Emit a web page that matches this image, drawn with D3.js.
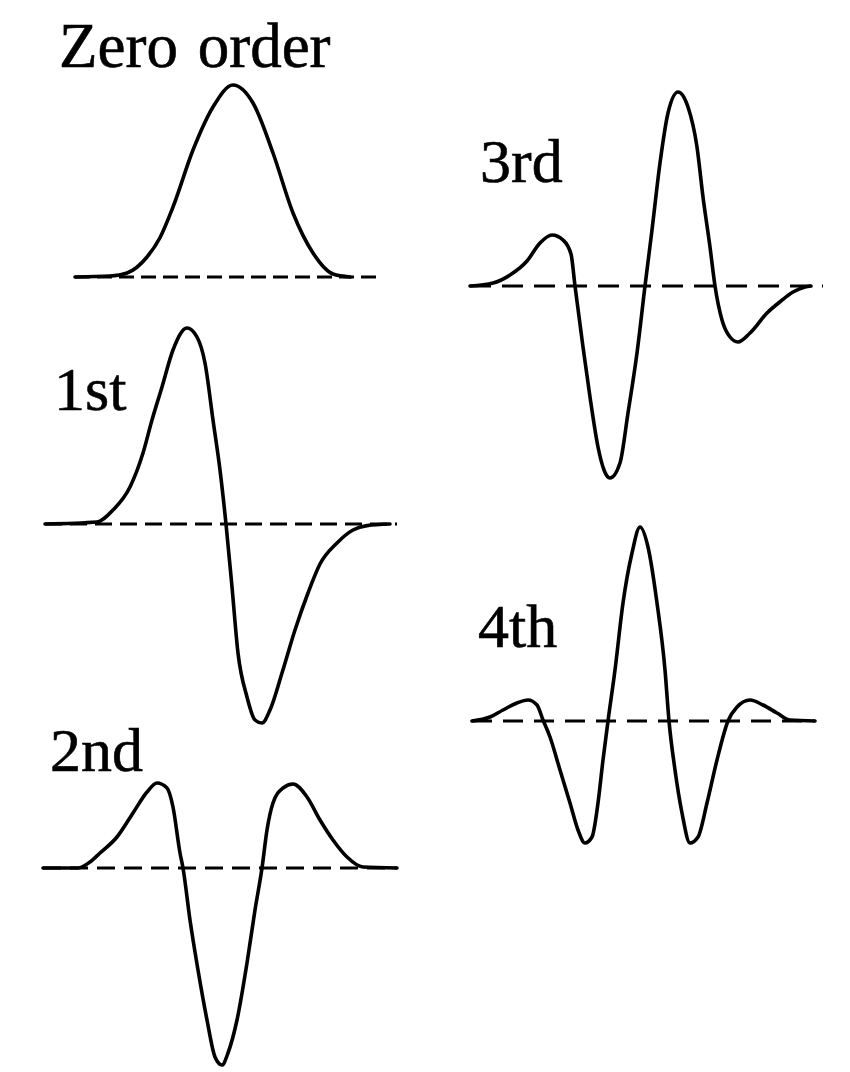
<!DOCTYPE html>
<html>
<head>
<meta charset="utf-8">
<script src="https://cdn.jsdelivr.net/npm/d3@7"></script>
<style>
  html, body { margin: 0; padding: 0; background: #fff; }
  svg { display: block; }
</style>
</head>
<body>
<svg id="chart" width="850" height="1072"></svg>
<script>
// ---- Data (x in sigma-like units, y in normalized amplitude) ----
const labels = ["Zero order", "1st", "2nd", "3rd", "4th"];

const zeroOrder = [
  [-3.95, 0], [-3.08, 0.005], [-2.65, 0.02], [-2.15, 0.10], [-1.83, 0.195],
  [-1.5, 0.35], [-1.0, 0.635], [-0.5, 0.85], [0, 0.96], [0.5, 0.87],
  [1.0, 0.62], [1.5, 0.32], [2.0, 0.12], [2.5, 0.015], [2.93, 0]
];

const firstOrder = [
  [-4.525, 0], [-3.225, 0.01], [-2.825, 0.07], [-2.4, 0.185], [-2.075, 0.355],
  [-1.85, 0.52], [-1.6, 0.685], [-1.325, 0.87], [-0.975, 0.98], [-0.725, 0.935],
  [-0.525, 0.805], [-0.325, 0.52], [-0.15, 0.27], [0, 0], [0.15, -0.315],
  [0.3, -0.645], [0.525, -0.865], [0.725, -0.98], [0.9, -0.995], [1.1, -0.93],
  [1.4, -0.745], [1.725, -0.53], [2.05, -0.345], [2.35, -0.2], [2.775, -0.095],
  [3.175, -0.03], [3.525, -0.008], [4.1, 0]
];

const secondOrder = [
  [-4.475, 0], [-3.6, 0], [-3.3, 0.03], [-3.05, 0.075], [-2.625, 0.155], [-2.225, 0.275],
  [-1.875, 0.38], [-1.625, 0.425], [-1.375, 0.40], [-1.225, 0.305], [-1.05, 0.075],
  [-0.975, 0], [-0.8, -0.26], [-0.6, -0.51], [-0.375, -0.76], [-0.175, -0.945],
  [0, -0.985], [0.15, -0.925], [0.375, -0.76], [0.625, -0.475], [0.825, -0.21],
  [1.0, 0], [1.125, 0.19], [1.275, 0.325], [1.525, 0.40], [1.775, 0.42],
  [2.125, 0.355], [2.45, 0.24], [2.775, 0.14], [3.125, 0.055], [3.525, 0.005],
  [4.375, 0]
];

const thirdOrder = [
  [-4.375, 0], [-3.8, 0.015], [-3.375, 0.055], [-2.95, 0.125], [-2.625, 0.215],
  [-2.325, 0.255], [-2.05, 0.23], [-1.85, 0.16], [-1.75, 0], [-1.55, -0.305],
  [-1.375, -0.555], [-1.175, -0.805], [-1.025, -0.92], [-0.875, -0.96], [-0.625, -0.885],
  [-0.425, -0.635], [-0.2, -0.335], [0, 0], [0.175, 0.28], [0.375, 0.615],
  [0.575, 0.865], [0.825, 0.97], [1.075, 0.895], [1.3, 0.695], [1.45, 0.445],
  [1.625, 0.195], [1.75, 0], [1.925, -0.17], [2.125, -0.255], [2.325, -0.28],
  [2.625, -0.235], [3.05, -0.135], [3.4, -0.075], [3.7, -0.03], [4.0, -0.005], [4.15, 0]
];

const fourthOrder = [
  [-4.175, 0], [-3.725, 0.02], [-3.4, 0.055], [-3.05, 0.09], [-2.775, 0.105],
  [-2.55, 0.08], [-2.4, 0.005], [-2.225, -0.08], [-1.975, -0.245], [-1.725, -0.41],
  [-1.525, -0.545], [-1.35, -0.61], [-1.175, -0.58], [-1.025, -0.41], [-0.9, -0.195],
  [-0.775, 0], [-0.6, 0.255], [-0.4, 0.59], [-0.175, 0.84], [0.025, 0.97],
  [0.225, 0.87], [0.45, 0.59], [0.65, 0.255], [0.75, 0], [0.9, -0.245],
  [1.075, -0.46], [1.275, -0.61], [1.475, -0.58], [1.7, -0.41], [1.95, -0.195],
  [2.225, 0], [2.45, 0.07], [2.775, 0.105], [3.1, 0.08], [3.45, 0.04],
  [3.775, 0.005], [4.4, 0]
];

// zero-line extents (x units) for each curve
const baselineExtents = [[-3.95, 3.675], [-4.525, 4.275], [-4.475, 4.375], [-4.375, 4.45], [-4.175, 4.4]];

const series = [zeroOrder, firstOrder, secondOrder, thirdOrder, fourthOrder];

// ---- Layout / style (pixels) ----
const layout = [
  { cx: 233, base: 277, lx: 59,  ly: 67,  fs: 63, ws: 4, dash: "15,7" },
  { cx: 226, base: 524, lx: 54,  ly: 410, fs: 62, ws: 0, dash: "17,8" },
  { cx: 222, base: 868, lx: 50,  ly: 771, fs: 62, ws: 0, dash: "18,9" },
  { cx: 645, base: 286, lx: 480, ly: 182, fs: 62, ws: 0, dash: "21,11" },
  { cx: 639, base: 721, lx: 478, ly: 647, fs: 62, ws: 0, dash: "20,11" }
];
const pxPerX = 40, pxPerY = 200;

const svg = d3.select("#chart");
svg.append("rect").attr("width", 850).attr("height", 1072).attr("fill", "#fff");

series.forEach((data, i) => {
  const L = layout[i];
  const x = d3.scaleLinear().domain([0, 1]).range([L.cx, L.cx + pxPerX]);
  const y = d3.scaleLinear().domain([0, 1]).range([L.base, L.base - pxPerY]);
  const g = svg.append("g");

  g.append("line")
    .attr("x1", x(baselineExtents[i][0])).attr("x2", x(baselineExtents[i][1]))
    .attr("y1", y(0)).attr("y2", y(0))
    .attr("stroke", "#000").attr("stroke-width", 3)
    .attr("stroke-dasharray", L.dash);

  const line = d3.line().x(d => x(d[0])).y(d => y(d[1])).curve(d3.curveMonotoneX);
  g.append("path").datum(data)
    .attr("d", line)
    .attr("fill", "none").attr("stroke", "#000")
    .attr("stroke-width", 3.6).attr("stroke-linejoin", "round").attr("stroke-linecap", "round");

  g.append("text")
    .attr("x", L.lx).attr("y", L.ly)
    .attr("font-family", "'Liberation Serif', 'Times New Roman', serif")
    .attr("font-size", L.fs)
    .attr("fill", "#000")
    .attr("stroke", "#000").attr("stroke-width", 0.6)
    .attr("word-spacing", L.ws)
    .text(labels[i]);
});
</script>
</body>
</html>
